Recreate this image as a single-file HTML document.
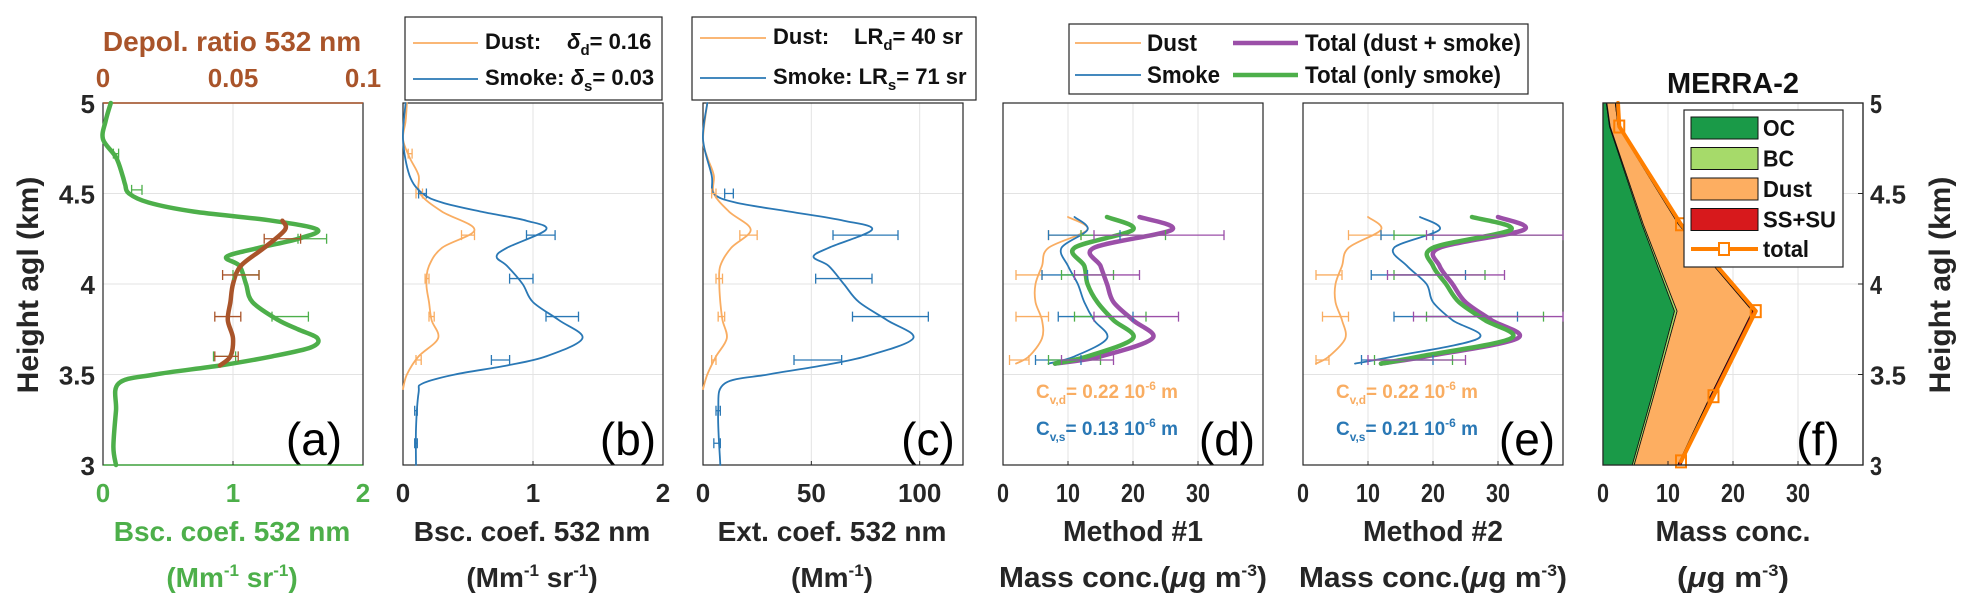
<!DOCTYPE html>
<html><head><meta charset="utf-8"><style>
body{margin:0;background:#fff}
svg{display:block}
text{font-family:"Liberation Sans",Arial,sans-serif}
</style></head><body>
<svg id="fig" width="1972" height="614" viewBox="0 0 1972 614" xmlns="http://www.w3.org/2000/svg"></svg>
<script>
// ---------- data ----------
const aBscH=[3.0,3.1,3.3,3.45,3.5,3.55,3.6,3.65,3.7,3.75,3.8,3.9,4.0,4.1,4.15,4.2,4.25,4.3,4.35,4.4,4.45,4.5,4.55,4.6,4.7,4.8,4.9,5.0];
const aBscV=[0.1,0.08,0.1,0.12,0.4,0.9,1.3,1.6,1.65,1.5,1.35,1.15,1.1,1.05,0.95,1.2,1.5,1.65,1.3,0.7,0.35,0.2,0.17,0.15,0.1,0.0,0.02,0.06];
const aDepH=[3.55,3.6,3.7,3.8,3.9,4.0,4.1,4.2,4.3,4.35];
const aDepV=[0.045,0.049,0.05,0.048,0.049,0.05,0.053,0.062,0.07,0.069];
const aBscErrH=[4.72,4.52,4.25,4.05,3.82,3.6];
const aBscErrLo=[0.08,0.22,1.5,1.0,1.3,0.85];
const aBscErrHi=[0.12,0.3,1.72,1.2,1.58,1.02];
const aDepErrH=[4.25,4.05,3.82,3.6];
const aDepErrLo=[0.062,0.046,0.043,0.043];
const aDepErrHi=[0.076,0.06,0.053,0.052];

const bDustH=[3.42,3.5,3.6,3.7,3.8,3.9,4.0,4.1,4.2,4.3,4.4,4.5,4.6,4.7,4.8,4.9,5.0];
const bDustV=[0,0.03,0.12,0.27,0.22,0.2,0.18,0.2,0.3,0.55,0.3,0.13,0.12,0.05,0,0.02,0.03];
const bSmokeH=[3.0,3.2,3.4,3.45,3.5,3.55,3.6,3.7,3.8,3.9,4.0,4.1,4.15,4.2,4.3,4.35,4.4,4.45,4.5,4.6,4.8,5.0];
const bSmokeV=[0.1,0.1,0.12,0.15,0.4,0.8,1.1,1.38,1.2,1.0,0.92,0.8,0.72,0.8,1.1,0.95,0.6,0.3,0.15,0.05,0,0.02];
const bDustErrH=[4.72,4.5,4.27,4.03,3.82,3.58];
const bDustErrLo=[0.04,0.1,0.45,0.17,0.2,0.1];
const bDustErrHi=[0.07,0.15,0.55,0.2,0.24,0.14];
const bSmokeErrH=[4.5,4.27,4.03,3.82,3.58,3.3,3.12];
const bSmokeErrLo=[0.12,0.95,0.82,1.1,0.68,0.09,0.09];
const bSmokeErrHi=[0.18,1.17,1.0,1.35,0.82,0.11,0.11];

const cDustH=[3.42,3.5,3.6,3.7,3.8,3.9,4.0,4.1,4.2,4.3,4.4,4.5,4.6,4.7,4.8,5.0];
const cDustV=[0,2,6,11,9,8,7.5,8,13,22,12,5,5,2,0,2];
const cSmokeH=[3.0,3.3,3.45,3.5,3.55,3.6,3.7,3.8,3.9,4.0,4.1,4.15,4.2,4.3,4.35,4.4,4.45,4.5,4.6,4.8,5.0];
const cSmokeV=[8,7,10,30,55,75,97,85,72,65,58,51,58,78,65,40,15,5,4,0,2];
const cDustErrH=[4.5,4.27,4.03,3.82,3.58];
const cDustErrLo=[4,17,6,7,4];
const cDustErrHi=[6,25,9,10,6];
const cSmokeErrH=[4.5,4.27,4.03,3.82,3.58,3.3,3.12];
const cSmokeErrLo=[10,60,52,69,42,6,5];
const cSmokeErrHi=[14,90,78,104,64,8,8];

const dH=[3.56,3.6,3.7,3.8,3.9,4.0,4.1,4.2,4.3,4.37];
const dDust=[2,4,6,6,5,5,6,7,13,10];
const dSmoke=[7,11,16,14,12.5,11.5,10,9,13,11];
const dGreen=[8,13,20,17,14.5,13,12.5,11,20,16];
const dPurple=[8,15,23,20,17,16,15,14,26,21];
const errH=[4.27,4.05,3.82,3.58];
const dDustLo=[7,2,2,1],dDustHi=[12,6,7,4];
const dSmokeLo=[7,6,8.5,5],dSmokeHi=[18,13,20,12];
const dGreenLo=[12,9,11,7],dGreenHi=[25,17,22,15];
const dPurpleLo=[14,11,14,9],dPurpleHi=[34,21,27,17];

const eDust=[2,4,6.5,6,5,5,6,7,12,10];
const eSmoke=[8,14,27,23,20,19,16,14,21,18];
const eGreen=[12,18,32,28,24,22,20,20,32,26];
const ePurple=[12,19,33,29,25,23,21,21,34,30];
const eDustLo=[7,2,3,2],eDustHi=[12,6,7,4];
const eSmokeLo=[12,10.5,14,9],eSmokeHi=[20,25,33,20];
const eGreenLo=[14,14,19,11],eGreenHi=[40,28,37,23];
const ePurpleLo=[19,13,17,10],ePurpleHi=[40,31,40,25];

const fH=[3.0,3.38,3.85,4.33,4.87,5.0];
const fOC=[4.5,7.5,11,6,1,0.5];
const fBC=[0.3,0.3,0.4,0.2,0.1,0.1];
const fDust=[6.7,8.7,11.6,5.4,1.2,1.3];
const fSS=[0.5,0.5,0.5,0.4,0.2,0.1];
const fMarkH=[3.02,3.38,3.85,4.33,4.87];
const fMarkV=[12,17,23.5,12,2.5];

// ---------- drawing ----------
const NS="http://www.w3.org/2000/svg";
const svg=document.getElementById('fig');
const TOP=103,BOT=465;
function yS(h){return BOT-(h-3)/2*(BOT-TOP);}
function mk(tag,at,parent){const e=document.createElementNS(NS,tag);for(const k in at)e.setAttribute(k,at[k]);(parent||svg).appendChild(e);return e;}
function txt(s,x,y,size,fill,anchor,weight,len){const t=mk('text',{x:x,y:y,'font-size':size,fill:fill,'text-anchor':anchor||'middle','font-weight':weight||'bold'});t.innerHTML=s;if(len){t.setAttribute('textLength',len);t.setAttribute('lengthAdjust','spacingAndGlyphs');}return t;}
function xS(L,W,max){return v=>L+v/max*W;}
function smoothPath(pts){
  let d='M'+pts[0][0].toFixed(1)+','+pts[0][1].toFixed(1);
  for(let i=0;i<pts.length-1;i++){
    const p0=pts[Math.max(0,i-1)],p1=pts[i],p2=pts[i+1],p3=pts[Math.min(pts.length-1,i+2)];
    const c1x=p1[0]+(p2[0]-p0[0])/6,c1y=p1[1]+(p2[1]-p0[1])/6;
    const c2x=p2[0]-(p3[0]-p1[0])/6,c2y=p2[1]-(p3[1]-p1[1])/6;
    d+=`C${c1x.toFixed(1)},${c1y.toFixed(1)} ${c2x.toFixed(1)},${c2y.toFixed(1)} ${p2[0].toFixed(1)},${p2[1].toFixed(1)}`;
  }
  return d;
}
function line(xf,H,V,col,w,name,straight){
  const pts=H.map((h,i)=>[xf(V[i]),yS(h)]);
  const d=straight?('M'+pts.map(p=>p[0].toFixed(1)+','+p[1].toFixed(1)).join('L')):smoothPath(pts);
  const e=mk('path',{d:d,fill:'none',stroke:col,'stroke-width':w,'stroke-linejoin':'round','stroke-linecap':'round'});
  
  
}
function errs(xf,H,LO,HI,col,name){
  H.forEach((h,i)=>{const y=yS(h),x1=xf(LO[i]),x2=xf(HI[i]);
    const g=mk('path',{d:`M${x1},${y}H${x2}M${x1},${y-5}V${y+5}M${x2},${y-5}V${y+5}`,stroke:col,'stroke-width':1.3,fill:'none'});
    
    });
}
function frame(L,W,ticks,xf,name){
  [3.5,4,4.5].forEach(h=>mk('line',{x1:L,x2:L+W,y1:yS(h),y2:yS(h),stroke:'#e3e3e3','stroke-width':1}));
  ticks.forEach(t=>{if(xf(t)>L+1&&xf(t)<L+W-1)mk('line',{x1:xf(t),x2:xf(t),y1:TOP,y2:BOT,stroke:'#e3e3e3','stroke-width':1});});
  const r=mk('rect',{x:L,y:TOP,width:W,height:BOT-TOP,fill:'none',stroke:'#262626','stroke-width':1.2});
  
  
}
function xticks(ticks,labels,xf,col,y,narrow){
  ticks.forEach((t,i)=>{txt(labels[i],xf(t),y,26,col,'middle','bold',narrow?(labels[i].length*12):null);mk('line',{x1:xf(t),x2:xf(t),y1:BOT,y2:BOT-4,stroke:'#262626'});});
}

// panel a
const xa=xS(103,260,2), xad=xS(103,260,0.1);
frame(103,260,[0,1,2],xa,'panel-a-frame');
mk('line',{x1:103,x2:363,y1:BOT,y2:BOT,stroke:'#4daf4a','stroke-width':1.5});
mk('line',{x1:103,x2:363,y1:TOP,y2:TOP,stroke:'#a9542a','stroke-width':1.5});
line(xa,aBscH,aBscV,'#4daf4a',4.5,'backscatter-line');
line(xad,aDepH,aDepV,'#a9542a',4.5,'depol-ratio-line');
errs(xa,aBscErrH,aBscErrLo,aBscErrHi,'#4daf4a','backscatter-errorbar');
errs(xad,aDepErrH,aDepErrLo,aDepErrHi,'#a9542a','depol-errorbar');
xticks([0,1,2],['0','1','2'],xa,'#4daf4a',502);
['0','0.05','0.1'].forEach((s,i)=>txt(s,xad([0,0.05,0.1][i]),87,26,'#a9542a'));
txt('Depol. ratio 532 nm',232,51,28,'#a9542a');
txt('Bsc. coef. 532 nm',232,541,28,'#4daf4a');
txt('(Mm<tspan font-size="17" dy="-11">-1</tspan><tspan dy="11"> sr</tspan><tspan font-size="17" dy="-11">-1</tspan><tspan dy="11">)</tspan>',232,587,28,'#4daf4a');
[[3,'3'],[3.5,'3.5'],[4,'4'],[4.5,'4.5'],[5,'5']].forEach(([h,s])=>txt(s,95,yS(h)+10,26,'#262626','end'));
const yl=txt('Height agl (km)',0,0,30,'#262626');yl.setAttribute('transform','translate(38,285) rotate(-90)');

txt('(a)',314,455,46,'#000','middle','normal');

// panel b
const xb=xS(403,260,2);
frame(403,260,[0,1,2],xb,'panel-b-frame');
line(xb,bDustH,bDustV,'#f9ad62',1.8,'dust-bsc-line');
line(xb,bSmokeH,bSmokeV,'#2a78b5',1.8,'smoke-bsc-line');
errs(xb,bDustErrH,bDustErrLo,bDustErrHi,'#f9ad62','dust-errorbar');
errs(xb,bSmokeErrH,bSmokeErrLo,bSmokeErrHi,'#2a78b5','smoke-errorbar');
xticks([0,1,2],['0','1','2'],xb,'#262626',502);
txt('Bsc. coef. 532 nm',532,541,28,'#262626');
txt('(Mm<tspan font-size="17" dy="-11">-1</tspan><tspan dy="11"> sr</tspan><tspan font-size="17" dy="-11">-1</tspan><tspan dy="11">)</tspan>',532,587,28,'#262626');
txt('(b)',628,455,46,'#000','middle','normal');
let lg=mk('rect',{x:405,y:17,width:257,height:83,fill:'#fff',stroke:'#262626','stroke-width':1.2});

mk('line',{x1:413,x2:478,y1:43,y2:43,stroke:'#f9ad62','stroke-width':1.8});
mk('line',{x1:413,x2:478,y1:79,y2:79,stroke:'#2a78b5','stroke-width':1.8});
txt('Dust:',485,49,22,'#111','start');
txt('<tspan font-style="italic">δ</tspan><tspan font-size="15" dy="6">d</tspan><tspan dy="-6">= 0.16</tspan>',567,49,22,'#111','start');
txt('Smoke: <tspan font-style="italic">δ</tspan><tspan font-size="15" dy="6">s</tspan><tspan dy="-6">= 0.03</tspan>',485,85,22,'#111','start');

// panel c
const xc=xS(703,260,120);
frame(703,260,[0,50,100],xc,'panel-c-frame');
line(xc,cDustH,cDustV,'#f9ad62',1.8,'dust-ext-line');
line(xc,cSmokeH,cSmokeV,'#2a78b5',1.8,'smoke-ext-line');
errs(xc,cDustErrH,cDustErrLo,cDustErrHi,'#f9ad62','dust-errorbar');
errs(xc,cSmokeErrH,cSmokeErrLo,cSmokeErrHi,'#2a78b5','smoke-errorbar');
xticks([0,50,100],['0','50','100'],xc,'#262626',502);
txt('Ext. coef. 532 nm',832,541,28,'#262626');
txt('(Mm<tspan font-size="17" dy="-11">-1</tspan><tspan dy="11">)</tspan>',832,587,28,'#262626');
txt('(c)',928,455,46,'#000','middle','normal');
lg=mk('rect',{x:692,y:17,width:284,height:83,fill:'#fff',stroke:'#262626','stroke-width':1.2});

mk('line',{x1:700,x2:766,y1:38,y2:38,stroke:'#f9ad62','stroke-width':1.8});
mk('line',{x1:700,x2:766,y1:78,y2:78,stroke:'#2a78b5','stroke-width':1.8});
txt('Dust:',773,44,22,'#111','start');
txt('LR<tspan font-size="15" dy="6">d</tspan><tspan dy="-6">= 40 sr</tspan>',854,44,22,'#111','start');
txt('Smoke: LR<tspan font-size="15" dy="6">s</tspan><tspan dy="-6">= 71 sr</tspan>',773,84,22,'#111','start');

// panel d & e
function massPanel(L,dust,smoke,green,purple,lo,hi,letter,cvs,meth,nm){
  const xf=xS(L,260,40);
  frame(L,260,[0,10,20,30],xf,nm+'-frame');
  line(xf,dH,dust,'#f9ad62',1.8,'dust-mass-line');
  line(xf,dH,smoke,'#2a78b5',1.8,'smoke-mass-line');
  line(xf,dH,purple,'#9b4fa8',4.5,'total-dust-smoke-line');
  line(xf,dH,green,'#4daf4a',4.5,'total-only-smoke-line');
  errs(xf,errH,lo[0],hi[0],'#f9ad62','dust-errorbar');
  errs(xf,errH,lo[1],hi[1],'#2a78b5','smoke-errorbar');
  errs(xf,errH,lo[2],hi[2],'#4daf4a','green-errorbar');
  errs(xf,errH,lo[3],hi[3],'#9b4fa8','purple-errorbar');
  xticks([0,10,20,30],['0','10','20','30'],xf,'#262626',502,true);
  txt(meth,L+130,541,29,'#262626','middle','bold',140);
  txt('Mass conc.(<tspan font-style="italic">μ</tspan>g m<tspan font-size="17" dy="-11">-3</tspan><tspan dy="11">)</tspan>',L+130,587,29,'#262626','middle','bold',268);
  txt('C<tspan font-size="12" dy="6">v,d</tspan><tspan dy="-6">= 0.22 10</tspan><tspan font-size="12" dy="-8">-6</tspan><tspan dy="8"> m</tspan>',L+33,398,19,'#f9ad62','start','bold',142);
  txt('C<tspan font-size="12" dy="6">v,s</tspan><tspan dy="-6">= '+cvs+' 10</tspan><tspan font-size="12" dy="-8">-6</tspan><tspan dy="8"> m</tspan>',L+33,435,19,'#2a78b5','start','bold',142);
  txt(letter,L+224,455,46,'#000','middle','normal');
}
massPanel(1003,dDust,dSmoke,dGreen,dPurple,[dDustLo,dSmokeLo,dGreenLo,dPurpleLo],[dDustHi,dSmokeHi,dGreenHi,dPurpleHi],'(d)','0.13','Method #1','panel-d');
massPanel(1303,eDust,eSmoke,eGreen,ePurple,[eDustLo,eSmokeLo,eGreenLo,ePurpleLo],[eDustHi,eSmokeHi,eGreenHi,ePurpleHi],'(e)','0.21','Method #2','panel-e');
lg=mk('rect',{x:1069,y:24,width:459,height:70,fill:'#fff',stroke:'#262626','stroke-width':1.2});

mk('line',{x1:1075,x2:1141,y1:43,y2:43,stroke:'#f9ad62','stroke-width':1.8});
mk('line',{x1:1075,x2:1141,y1:75,y2:75,stroke:'#2a78b5','stroke-width':1.8});
mk('line',{x1:1233,x2:1298,y1:43,y2:43,stroke:'#9b4fa8','stroke-width':4.5});
mk('line',{x1:1233,x2:1298,y1:75,y2:75,stroke:'#4daf4a','stroke-width':4.5});
txt('Dust',1147,51,24,'#111','start','bold',50);
txt('Smoke',1147,83,24,'#111','start','bold',73);
txt('Total (dust + smoke)',1305,51,24,'#111','start','bold',216);
txt('Total (only smoke)',1305,83,24,'#111','start','bold',196);

// panel f
const xf6=xS(1603,260,40);
frame(1603,260,[0,10,20,30],xf6,'panel-f-frame');
function stackPoly(lowArr,highArr,col,name){
  const up=fH.map((h,i)=>xf6(highArr[i]).toFixed(1)+','+yS(h).toFixed(1));
  const dn=fH.map((h,i)=>xf6(lowArr[i]).toFixed(1)+','+yS(h).toFixed(1)).reverse();
  const p=mk('polygon',{points:up.concat(dn).join(' '),fill:col,stroke:'#111','stroke-width':0.8});
  
  
}
const zero=fH.map(()=>0);
const c1=fOC, c2=fOC.map((v,i)=>v+fBC[i]), c3=c2.map((v,i)=>v+fDust[i]), c4=c3.map((v,i)=>v+fSS[i]);
stackPoly(zero,c1,'#1a9a48','oc-area');
stackPoly(c1,c2,'#a6da6a','bc-area');
stackPoly(c2,c3,'#fdae61','dust-area');
stackPoly(c3,c4,'#d7191c','ss-su-area');
line(xf6,fMarkH.concat([5]),fMarkV.concat([2.3]),'#ff7f00',4,'total-line',true);
fMarkH.forEach((h,i)=>{const r=mk('rect',{x:xf6(fMarkV[i])-5,y:yS(h)-6,width:10,height:12,fill:'none',stroke:'#ff7f00','stroke-width':2});
  });
mk('rect',{x:1603,y:TOP,width:260,height:BOT-TOP,fill:'none',stroke:'#262626','stroke-width':1.2});
xticks([0,10,20,30],['0','10','20','30'],xf6,'#262626',502,true);
[3,3.5,4,4.5,5].forEach(h=>{mk('line',{x1:1863,x2:1858,y1:yS(h),y2:yS(h),stroke:'#262626'});const s=String(h);txt(s,1870,yS(h)+10,26,'#262626','start','bold',s.length*12);});
const yr=txt('Height agl (km)',0,0,30,'#262626');yr.setAttribute('transform','translate(1950,285) rotate(-90)');

txt('MERRA-2',1733,93,29,'#111','middle','bold',132);
txt('Mass conc.',1733,541,29,'#262626','middle','bold',155);
txt('(<tspan font-style="italic">μ</tspan>g m<tspan font-size="17" dy="-11">-3</tspan><tspan dy="11">)</tspan>',1733,587,29,'#262626','middle','bold',112);
txt('(f)',1818,455,46,'#000','middle','normal');
lg=mk('rect',{x:1684,y:110,width:159,height:157,fill:'#fff',stroke:'#262626','stroke-width':1.2});

[['OC','#1a9a48',32],['BC','#a6da6a',31],['Dust','#fdae61',49],['SS+SU','#d7191c',73]].forEach(([s,c,w],i)=>{
  const y=117+i*30.5;
  mk('rect',{x:1691,y:y,width:67,height:22,fill:c,stroke:'#111','stroke-width':1});
  txt(s,1763,y+19,23,'#111','start','bold',w);
});
mk('line',{x1:1691,x2:1758,y1:249,y2:249,stroke:'#ff7f00','stroke-width':4});
mk('rect',{x:1719,y:243,width:10,height:12,fill:'#fff',stroke:'#ff7f00','stroke-width':2});
txt('total',1763,257,23,'#111','start','bold',46);
</script>
</body></html>
